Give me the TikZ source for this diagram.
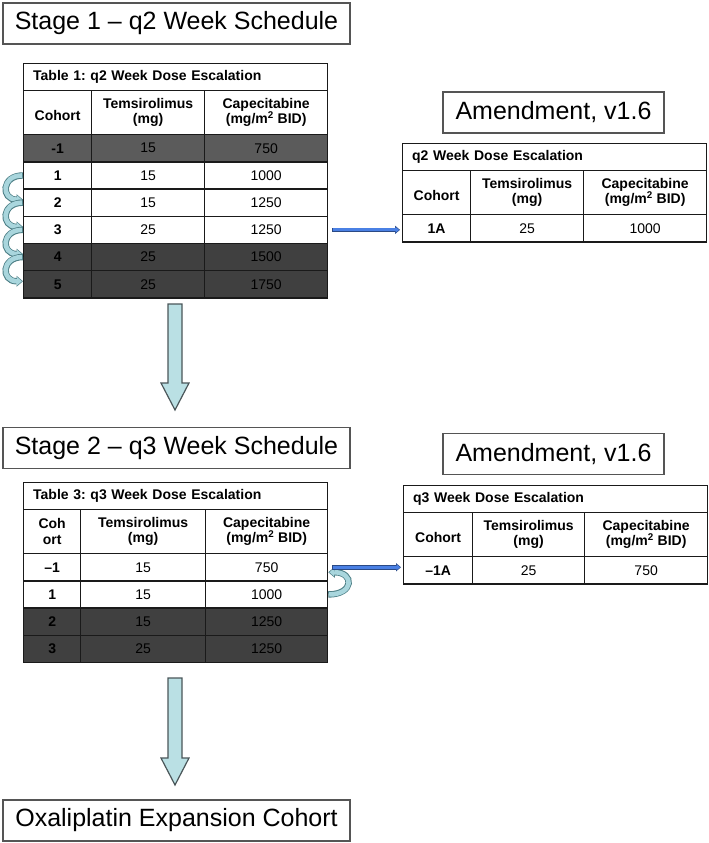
\documentclass[tikz,border=0pt]{standalone}
\usepackage{fontspec}
\setmainfont{Liberation Sans}
\usetikzlibrary{arrows.meta,calc}

\definecolor{boxline}{HTML}{555555}
\definecolor{tabline}{HTML}{1A1A1A}
\definecolor{shademid}{HTML}{5B5B5B}
\definecolor{shadedark}{HTML}{404040}
\definecolor{hookfill}{HTML}{A9D6DD}
\definecolor{hookedge}{HTML}{4D7F86}
\definecolor{bigfill}{HTML}{BAE0E4}
\definecolor{bigedge}{HTML}{4A5659}
\definecolor{linkfill}{HTML}{4A80E4}
\definecolor{linkedge}{HTML}{2B4A85}

\tikzset{
    stagebox/.style={draw=boxline, line width=1.2pt, fill=white,
        minimum width=347pt, minimum height=41pt, inner sep=0pt,
        font=\fontsize{25}{30}\selectfont},
    amendbox/.style={stagebox, minimum width=221pt},
    cell/.style={draw=tabline, line width=1.3pt, anchor=north west,
        inner sep=0pt, minimum height=27.2pt, align=center,
        font=\fontsize{14}{15.5}\selectfont},
    boldcell/.style={cell, font=\fontsize{14}{15.5}\selectfont\bfseries},
    headcell/.style={boldcell, minimum height=44pt},
    titlecell/.style={boldcell, minimum height=27pt, minimum width=304pt,
        text width=285pt, align=left},
    hookout/.style={draw=hookedge, line width=6.4pt,
        -{Triangle[length=6.5pt,width=11pt,line width=0pt]}},
    hookin/.style={draw=hookfill, line width=4.6pt, shorten <=0.9pt,
        shorten >=1.1pt, -{Triangle[length=4.8pt,width=8.4pt,line width=0pt]}},
    linkout/.style={draw=linkedge, line width=4.6pt, shorten <=4pt,
        shorten >=2pt, -{Triangle[length=5pt,width=8.4pt,line width=0pt]}},
    linkin/.style={draw=linkfill, line width=3pt, shorten <=4.8pt,
        shorten >=2.9pt, -{Triangle[length=3.6pt,width=6pt,line width=0pt]}},
    blockarrow/.style={draw=bigedge, fill=bigfill, line width=1.2pt}
}

\begin{document}
\frenchspacing
\begin{tikzpicture}[x=1pt,y=-1pt]
    \useasboundingbox (0,0) rectangle (709,843);

    % Stage 1 heading
    \node[stagebox] (stage1) at (176.5,23.5) {Stage 1 – q2 Week Schedule};

    % Table 1, q2 week escalation
    \node[titlecell] (t1title) at (23,63) {Table 1: q2 Week Dose Escalation};
    \node[headcell, minimum width=68pt] (t1hc) at (23,90) {\mbox{}\\Cohort};
    \node[headcell, minimum width=113pt] (t1ht) at (91,90) {Temsirolimus\\(mg)};
    \node[headcell, minimum width=123pt] (t1hp) at (204,90) {Capecitabine\\(mg/m\textsuperscript{2} BID)};
    \foreach \c/\t/\p/\f [count=\i] in {-1/15/750/shademid, 1/15/1000/white,
            2/15/1250/white, 3/25/1250/white, 4/25/1500/shadedark, 5/25/1750/shadedark}{
        \pgfmathsetmacro{\ry}{134+27.2*(\i-1)}
        \node[boldcell, fill=\f, minimum width=68pt] (t1c\i) at (23,\ry) {\c};
        \node[cell, fill=\f, minimum width=113pt] (t1t\i) at (91,\ry) {\t};
        \node[cell, fill=\f, minimum width=123pt] (t1p\i) at (204,\ry) {\p};
    }

    % Amendment to stage 1
    \node[amendbox] (amend1) at (553.5,112.5) {Amendment, v1.6};
    \node[titlecell] (a1title) at (402,143) {q2 Week Dose Escalation};
    \node[headcell, minimum width=68pt] (a1hc) at (402,170) {\mbox{}\\Cohort};
    \node[headcell, minimum width=113pt] (a1ht) at (470,170) {Temsirolimus\\(mg)};
    \node[headcell, minimum width=123pt] (a1hp) at (583,170) {Capecitabine\\(mg/m\textsuperscript{2} BID)};
    \node[boldcell, minimum width=68pt] (a1c1) at (402,214) {1A};
    \node[cell, minimum width=113pt] (a1t1) at (470,214) {25};
    \node[cell, minimum width=123pt] (a1p1) at (583,214) {1000};

    % escalation steps, table 1
    \foreach \a/\b in {2/3, 3/4, 4/5, 5/6}{
        \draw[hookout] (t1c\a.west) .. controls +(-22,0) and +(-22,0) .. ([yshift=3pt]t1c\b.west);
        \draw[hookin] (t1c\a.west) .. controls +(-22,0) and +(-22,0) .. ([yshift=3pt]t1c\b.west);
    }
    \draw[linkout] (t1p4.east) -- (t1p4.east -| a1c1.west);
    \draw[linkin] (t1p4.east) -- (t1p4.east -| a1c1.west);

    % Stage 1 to stage 2
    \coordinate (drop1a) at (175,304);
    \coordinate (drop1b) at (175,410);
    \draw[blockarrow] ($(drop1a)+(-7,0)$) -- ($(drop1a)+(7,0)$) -- ($(drop1b)+(7,-27)$)
        -- ($(drop1b)+(14,-27)$) -- (drop1b) -- ($(drop1b)+(-14,-27)$)
        -- ($(drop1b)+(-7,-27)$) -- cycle;

    % Stage 2 heading
    \node[stagebox] (stage2) at (176.5,448) {Stage 2 – q3 Week Schedule};

    % Table 3, q3 week escalation
    \node[titlecell] (t3title) at (23,482) {Table 3: q3 Week Dose Escalation};
    \node[headcell, minimum width=57pt] (t3hc) at (23,509) {Coh\\ort};
    \node[headcell, minimum width=125pt] (t3ht) at (80,509) {Temsirolimus\\(mg)};
    \node[headcell, minimum width=122pt] (t3hp) at (205,509) {Capecitabine\\(mg/m\textsuperscript{2} BID)};
    \foreach \c/\t/\p/\f [count=\i] in {–1/15/750/white, 1/15/1000/white,
            2/15/1250/shadedark, 3/25/1250/shadedark}{
        \pgfmathsetmacro{\ry}{553+27.2*(\i-1)}
        \node[boldcell, fill=\f, minimum width=57pt] (t3c\i) at (23,\ry) {\c};
        \node[cell, fill=\f, minimum width=125pt] (t3t\i) at (80,\ry) {\t};
        \node[cell, fill=\f, minimum width=122pt] (t3p\i) at (205,\ry) {\p};
    }

    % Amendment to stage 2
    \node[amendbox] (amend2) at (553.5,454) {Amendment, v1.6};
    \node[titlecell] (a2title) at (403,485) {q3 Week Dose Escalation};
    \node[headcell, minimum width=69pt] (a2hc) at (403,512) {\mbox{}\\Cohort};
    \node[headcell, minimum width=112pt] (a2ht) at (472,512) {Temsirolimus\\(mg)};
    \node[headcell, minimum width=123pt] (a2hp) at (584,512) {Capecitabine\\(mg/m\textsuperscript{2} BID)};
    \node[boldcell, minimum width=69pt] (a2c1) at (403,556) {–1A};
    \node[cell, minimum width=112pt] (a2t1) at (472,556) {25};
    \node[cell, minimum width=123pt] (a2p1) at (584,556) {750};

    % de-escalation step, table 3
    \draw[hookout] (t3p2.east) .. controls +(26,0) and +(26,0) .. ([yshift=-5pt]t3p1.east);
    \draw[hookin] (t3p2.east) .. controls +(26,0) and +(26,0) .. ([yshift=-5pt]t3p1.east);
    \draw[linkout] (t3p1.east) -- (t3p1.east -| a2c1.west);
    \draw[linkin] (t3p1.east) -- (t3p1.east -| a2c1.west);

    % Stage 2 to expansion
    \coordinate (drop2a) at (175,678);
    \coordinate (drop2b) at (175,785);
    \draw[blockarrow] ($(drop2a)+(-7,0)$) -- ($(drop2a)+(7,0)$) -- ($(drop2b)+(7,-27)$)
        -- ($(drop2b)+(14,-27)$) -- (drop2b) -- ($(drop2b)+(-14,-27)$)
        -- ($(drop2b)+(-7,-27)$) -- cycle;

    % Expansion cohort
    \node[stagebox] (expand) at (176.5,820.5) {Oxaliplatin Expansion Cohort};

\end{tikzpicture}
\end{document}
